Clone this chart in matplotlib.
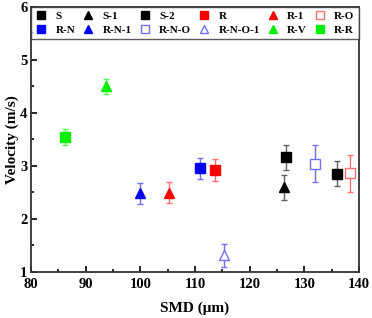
import matplotlib
matplotlib.use("Agg")
import matplotlib.pyplot as plt
from matplotlib.ticker import MultipleLocator

plt.rcParams['font.family'] = ['Liberation Serif', 'DejaVu Serif']
plt.rcParams['font.weight'] = 'bold'

# series data: label, SMD, velocity, error
labels = ['S', 'S-1', 'S-2', 'R', 'R-1', 'R-O',
          'R-N', 'R-N-1', 'R-N-O', 'R-N-O-1', 'R-V', 'R-R']
smd = [135.9, 126.2, 126.6, 113.6, 105.3, 138.4,
       110.9, 100.0, 132.0, 115.3, 93.7, 86.2]
velocity = [2.85, 2.59, 3.16, 2.92, 2.49, 2.86,
            2.95, 2.48, 3.04, 1.31, 4.50, 3.55]
err = [0.24, 0.23, 0.24, 0.20, 0.20, 0.35,
       0.20, 0.20, 0.35, 0.22, 0.14, 0.15]

markers = ['s', '^', 's', 's', '^', 's', 's', '^', 's', '^', '^', 's']
colors = ['#000000', '#000000', '#000000', '#ff0000', '#ff0000', '#ff0000',
          '#0000ff', '#0000ff', '#0000ff', '#0000ff', '#00ee00', '#00ee00']
err_colors = ['#606060', '#606060', '#606060', '#ff7070', '#ff7070', '#ff7070',
              '#7070ff', '#7070ff', '#7070ff', '#7070ff', '#50ff50', '#50ff50']
hollow = [False, False, False, False, False, True,
          False, False, True, True, False, False]

fig = plt.figure(figsize=(3.72, 3.18), dpi=100)
ax = fig.add_axes([0.083, 0.146, 0.882, 0.832])

handles = []
for i in range(len(labels)):
    if hollow[i]:
        fc = 'white'
        ec = err_colors[i]
    else:
        fc = colors[i]
        ec = colors[i]
    ax.errorbar(smd[i], velocity[i], yerr=err[i], fmt='none', ecolor=err_colors[i],
                elinewidth=1.0, capsize=2.5, capthick=1.0, zorder=2)
    h, = ax.plot(smd[i], velocity[i], linestyle='none', marker=markers[i],
                 markersize=7 if hollow[i] else 6.5, markerfacecolor=fc,
                 markeredgecolor=ec, markeredgewidth=1.0, label=labels[i], zorder=3)
    handles.append(h)

ax.set_xlim(80, 140)
ax.set_ylim(1, 6)
ax.xaxis.set_major_locator(MultipleLocator(10))
ax.xaxis.set_minor_locator(MultipleLocator(5))
ax.yaxis.set_major_locator(MultipleLocator(1))
ax.yaxis.set_minor_locator(MultipleLocator(0.5))
ax.tick_params(which='both', direction='in', width=1.2, labelsize=10.5)
ax.tick_params(axis='x', pad=4.5)
ax.tick_params(axis='y', pad=2.5)
ax.tick_params(which='major', length=4)
ax.tick_params(which='minor', length=2.5)
for s in ax.spines.values():
    s.set_linewidth(1.3)
    s.set_color('#333333')

ax.set_xlabel('SMD (\u03bcm)', fontsize=11, fontweight='bold', labelpad=8)
ax.set_ylabel('Velocity (m/s)', fontsize=11, fontweight='bold', labelpad=1)

# legend fills by column, so reorder to get row-wise layout
order = []
for c in range(6):
    order.append(c)
    order.append(c + 6)
leg = ax.legend([handles[k] for k in order], [labels[k] for k in order],
                ncol=6, loc='upper left', bbox_to_anchor=(0, 0, 1, 1),
                mode='expand', fontsize=8, frameon=True, fancybox=False,
                edgecolor='#333333', handlelength=1.0, handletextpad=0.8,
                columnspacing=0.4, borderaxespad=0, borderpad=0.4,
                labelspacing=0.35, numpoints=1, markerscale=0.85)
leg.get_frame().set_linewidth(1.0)

fig.savefig('out.png', dpi=100)
